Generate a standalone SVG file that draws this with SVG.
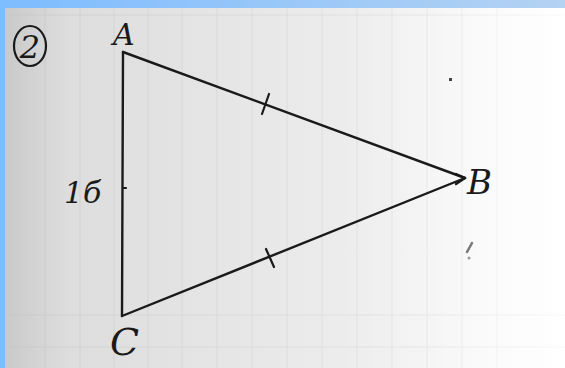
<svg xmlns="http://www.w3.org/2000/svg" width="565" height="368" viewBox="0 0 565 368">
<defs>
<linearGradient id="paper" x1="0" y1="0" x2="1" y2="0">
<stop offset="0" stop-color="#c8c8c8"/>
<stop offset="0.12" stop-color="#dddddd"/>
<stop offset="0.6" stop-color="#ececec"/>
<stop offset="0.85" stop-color="#fafafa"/>
<stop offset="1" stop-color="#ffffff"/>
</linearGradient>
<linearGradient id="band" x1="0" y1="0" x2="1" y2="0">
<stop offset="0" stop-color="#7dbcff"/>
<stop offset="1" stop-color="#b4d2f2"/>
</linearGradient>
<linearGradient id="gridfade" x1="0" y1="0" x2="565" y2="0" gradientUnits="userSpaceOnUse">
<stop offset="0" stop-color="#c4c4c4"/>
<stop offset="0.75" stop-color="#dadada"/>
<stop offset="1" stop-color="#f6f6f6"/>
</linearGradient>
</defs>
<style>
.edge{stroke:#1a1a1a;stroke-width:2.4;fill:none;stroke-linecap:round;stroke-linejoin:round}
.tick{stroke:#1a1a1a;stroke-width:2.2;fill:none;stroke-linecap:round}
.grid{stroke:url(#gridfade);stroke-width:1;opacity:0.5}
.lbl{font-family:"DejaVu Serif","Liberation Serif",serif;font-style:italic;fill:#1a1a1a}
</style>
<rect x="0" y="0" width="565" height="368" fill="url(#paper)"/>
<g id="grid" class="grid">
<line x1="45" y1="8" x2="45" y2="368"/>
<line x1="80" y1="8" x2="80" y2="368"/>
<line x1="114" y1="8" x2="114" y2="368"/>
<line x1="148" y1="8" x2="148" y2="368"/>
<line x1="182" y1="8" x2="182" y2="368"/>
<line x1="217" y1="8" x2="217" y2="368"/>
<line x1="252" y1="8" x2="252" y2="368"/>
<line x1="287" y1="8" x2="287" y2="368"/>
<line x1="322" y1="8" x2="322" y2="368"/>
<line x1="357" y1="8" x2="357" y2="368"/>
<line x1="392" y1="8" x2="392" y2="368"/>
<line x1="427" y1="8" x2="427" y2="368"/>
<line x1="462" y1="8" x2="462" y2="368"/>
<line x1="497" y1="8" x2="497" y2="368"/>
<line x1="5" y1="15" x2="565" y2="15"/>
<line x1="5" y1="315" x2="565" y2="315"/>
<line x1="5" y1="347" x2="565" y2="347"/>
</g>
<rect x="0" y="0" width="565" height="8" fill="url(#band)"/>
<rect x="0" y="0" width="5" height="368" fill="#7dbcff"/>
<g id="connectors">
<line class="edge" x1="123" y1="52" x2="465" y2="178"/>
<line class="edge" x1="465" y1="178" x2="122" y2="316"/>
<line class="edge" x1="123" y1="52" x2="122" y2="316"/>
<line class="tick" x1="262" y1="114" x2="269" y2="94"/>
<line class="tick" x1="266" y1="249" x2="274" y2="267"/>
<line class="tick" x1="123" y1="188" x2="126" y2="188"/>
<polyline class="edge" points="456,174 465,178 456,184"/>
</g>
<g id="node-A"><text class="lbl" x="113" y="45" font-size="30">A</text></g>
<g id="node-B"><text class="lbl" x="467" y="194" font-size="34">B</text></g>
<g id="node-C"><text class="lbl" x="110" y="355" font-size="38">C</text></g>
<g id="label-AC"><text class="lbl" x="64" y="203" font-size="30">1б</text></g>
<g id="number">
<ellipse cx="30" cy="46" rx="16" ry="20" fill="none" stroke="#1a1a1a" stroke-width="2.2"/>
<text class="lbl" x="30" y="58" font-size="32" text-anchor="middle">2</text>
</g>
<g id="marks" fill="#444">
<rect x="449" y="78" width="3" height="3"/>
<line x1="467" y1="252" x2="472" y2="243" stroke="#777" stroke-width="2.5" stroke-linecap="round"/>
<circle cx="469" cy="258" r="1.5" fill="#999"/>
</g>
</svg>
